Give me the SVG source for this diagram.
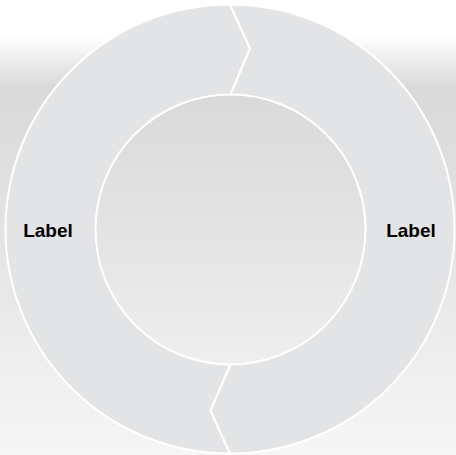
<svg xmlns="http://www.w3.org/2000/svg" width="456" height="455" viewBox="0 0 456 455">
  <defs>
    <linearGradient id="bg" x1="0" y1="0" x2="0" y2="1">
      <stop offset="0" stop-color="#ffffff"/>
      <stop offset="0.08" stop-color="#ffffff"/>
      <stop offset="0.19" stop-color="#d9d9d9"/>
      <stop offset="0.5" stop-color="#e3e3e3"/>
      <stop offset="1" stop-color="#f6f6f6"/>
    </linearGradient>
  </defs>
  <style>
    .seg { fill: #e3e4e6; stroke: #ffffff; stroke-width: 2; stroke-linejoin: miter; }
    .lbl { font-family: "Liberation Sans", Arial, sans-serif; font-weight: bold; font-size: 19px; fill: #000000; text-anchor: middle; }
  </style>
  <rect x="0" y="0" width="456" height="455" fill="url(#bg)"/>
  <g id="connectors"></g>
  <g id="segment-left">
    <path class="seg" d="M 230 4.5 A 224.5 224.5 0 0 0 230 453.5 L 210.5 410.5 L 230.5 364.5 A 135 135 0 0 1 230.5 94.5 L 250 48.5 Z"/>
    <text class="lbl" x="48" y="237">Label</text>
  </g>
  <g id="segment-right">
    <path class="seg" d="M 230 4.5 L 250 48.5 L 230.5 94.5 A 135 135 0 0 1 230.5 364.5 L 210.5 410.5 L 230 453.5 A 224.5 224.5 0 0 0 230 4.5 Z"/>
    <text class="lbl" x="411" y="237">Label</text>
  </g>
</svg>
